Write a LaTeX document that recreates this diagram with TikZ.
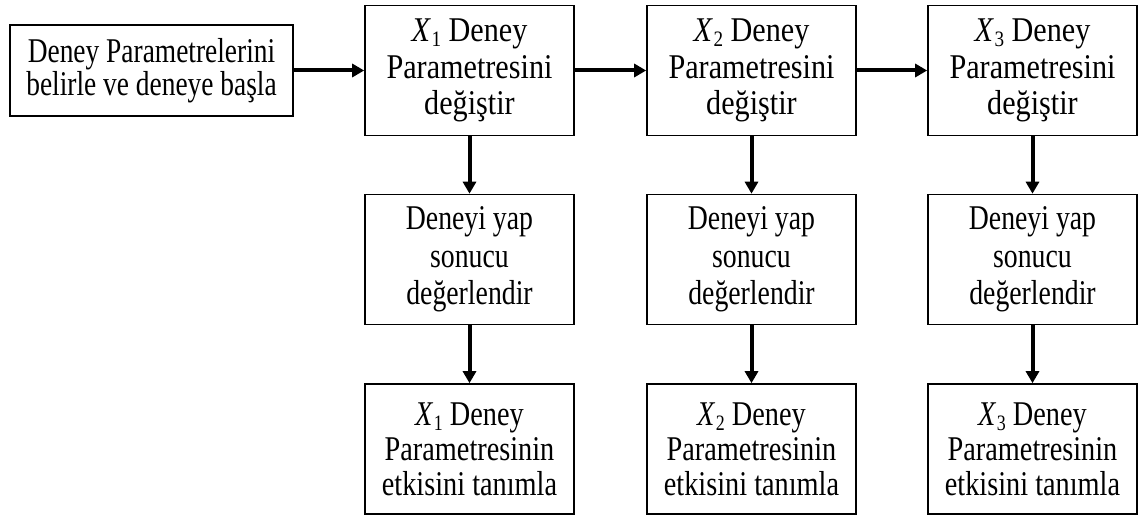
\documentclass[tikz,border=0pt]{standalone}
\usepackage{fontspec}
\setmainfont{Liberation Serif}
% tall, narrow cuts of the serif face for the box texts
\newfontfamily\startfont[FakeStretch=0.79]{Liberation Serif}
\newfontfamily\topfont[FakeStretch=0.87]{Liberation Serif}
\newfontfamily\midfont[FakeStretch=0.80]{Liberation Serif}
\newfontfamily\lowfont[FakeStretch=0.815]{Liberation Serif}
\usetikzlibrary{arrows.meta}

% X with an upright subscript index
\newcommand\xvar[1]{\textit{X}\kern0.5pt\raisebox{-5pt}{\fontsize{22}{22}\selectfont #1}}

\tikzset{
  box/.style={draw, line width=1.6pt, align=center, inner sep=0pt,
    minimum width=209pt, minimum height=130pt},
  topbox/.style={box, font={\topfont\fontsize{34.7}{36.5}\selectfont}},
  midbox/.style={box, font={\midfont\fontsize{34.7}{37.5}\selectfont}},
  lowbox/.style={box, font={\lowfont\fontsize{34.7}{35}\selectfont}},
  startbox/.style={box, minimum width=283pt, minimum height=91pt,
    font={\startfont\fontsize{34.7}{31}\selectfont}},
  flow/.style={line width=4pt, -{Triangle[length=12pt,width=13pt]}}
}

\begin{document}
\begin{tikzpicture}[x=1pt,y=-1pt]
  \useasboundingbox (0,0) rectangle (1138,518);

  % start
  \node[startbox] (start) at (151.5,70.5) {Deney Parametrelerini\\belirle ve deneye başla};

  % parameter change row
  \node[topbox] (p1) at (469.5,70.5) {\xvar{1} Deney\\Parametresini\\değiştir};
  \node[topbox] (p2) at (751.5,70.5) {\xvar{2} Deney\\Parametresini\\değiştir};
  \node[topbox] (p3) at (1032.5,70.5) {\xvar{3} Deney\\Parametresini\\değiştir};

  % experiment row
  \node[midbox] (e1) at (469.5,259.5) {Deneyi yap\\sonucu\\değerlendir};
  \node[midbox] (e2) at (751.5,259.5) {Deneyi yap\\sonucu\\değerlendir};
  \node[midbox] (e3) at (1032.5,259.5) {Deneyi yap\\sonucu\\değerlendir};

  % effect row
  \node[lowbox] (r1) at (469.5,449) {\xvar{1} Deney\\Parametresinin\\etkisini tanımla};
  \node[lowbox] (r2) at (751.5,449) {\xvar{2} Deney\\Parametresinin\\etkisini tanımla};
  \node[lowbox] (r3) at (1032.5,449) {\xvar{3} Deney\\Parametresinin\\etkisini tanımla};

  % connectors
  \draw[flow] (start) -- (p1);
  \draw[flow] (p1) -- (p2);
  \draw[flow] (p2) -- (p3);
  \foreach \i in {1,2,3} {
    \draw[flow] (p\i) -- (e\i);
    \draw[flow] (e\i) -- (r\i);
  }
\end{tikzpicture}
\end{document}
